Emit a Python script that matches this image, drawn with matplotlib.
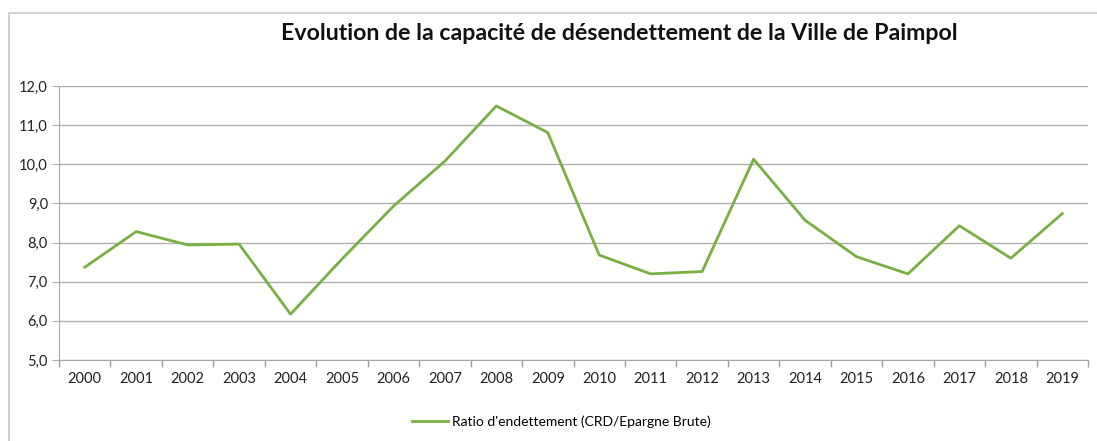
import matplotlib
matplotlib.use('Agg')
import matplotlib.pyplot as plt
from matplotlib.patches import Rectangle
from matplotlib.ticker import FixedLocator, FuncFormatter

# Data
years = ['2000', '2001', '2002', '2003', '2004', '2005', '2006', '2007', '2008', '2009',
         '2010', '2011', '2012', '2013', '2014', '2015', '2016', '2017', '2018', '2019']
ratio = [7.37, 8.28, 7.94, 7.96, 6.17, 7.58, 8.93, 10.08, 11.49, 10.81,
         7.68, 7.20, 7.26, 10.13, 8.57, 7.64, 7.20, 8.43, 7.60, 8.74]

title = "Evolution de la capacité de désendettement de la Ville de Paimpol"
series_label = "Ratio d'endettement (CRD/Epargne Brute)"

plt.rcParams['font.family'] = ['Lato', 'DejaVu Sans']

fig = plt.figure(figsize=(10.97, 4.41), dpi=100)
ax = fig.add_axes([0.0538, 0.1837, 0.938, 0.6213])

# outer chart border (left and top visible)
fig.patches.append(Rectangle((0.0082, -0.05), 1.2, 1.0205, transform=fig.transFigure,
                             fill=False, edgecolor='#c8c8c8', linewidth=1.2))

x = list(range(len(years)))
ax.plot(x, ratio, color='#78b043', linewidth=2.0, label=series_label, zorder=3)

ax.set_xlim(-0.5, len(years) - 0.5)
ax.set_ylim(5, 12)
ax.set_yticks([5, 6, 7, 8, 9, 10, 11, 12])
ax.yaxis.set_major_formatter(FuncFormatter(lambda v, p: f'{v:.1f}'.replace('.', ',')))
ax.grid(axis='y', color='#b0b0b0', linewidth=1.0)
ax.set_axisbelow(True)

# category labels at centres, tick marks between categories
ax.set_xticks(x)
ax.set_xticklabels(years)
ax.tick_params(axis='x', which='major', length=0, pad=9, labelsize=10.5, colors='#222222')
ax.xaxis.set_minor_locator(FixedLocator([i - 0.5 for i in range(len(years) + 1)]))
ax.tick_params(axis='x', which='minor', length=5, color='#a0a0a0', width=1)
ax.tick_params(axis='y', length=5, color='#b0b0b0', labelsize=10.5, pad=3)
ax.tick_params(axis='y', colors='#b0b0b0', labelcolor='#222222')

for s in ['top', 'right']:
    ax.spines[s].set_visible(False)
for s in ['left', 'bottom']:
    ax.spines[s].set_color('#a8a8a8')

fig.text(0.565, 0.925, title, ha='center', va='center', fontsize=16.7,
         fontweight='bold', color='#111111')

fig.legend(loc='center', bbox_to_anchor=(0.512, 0.043), frameon=False,
           fontsize=10, handlelength=2.6, handletextpad=0.3)

fig.savefig('out.png', dpi=100)
